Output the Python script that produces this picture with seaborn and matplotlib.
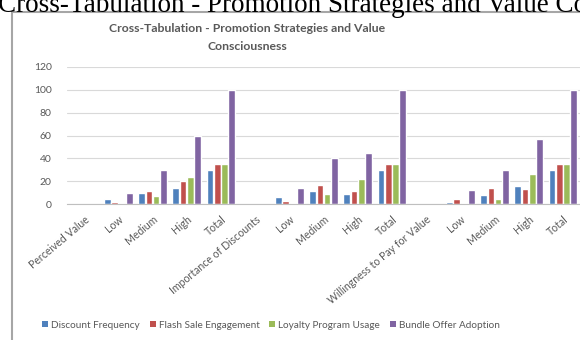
import numpy as np
import pandas as pd
import seaborn as sns
import matplotlib.pyplot as plt
from matplotlib.patches import Rectangle, Patch

# ---- data -------------------------------------------------------------
categories = ["Perceived Value", "Low", "Medium", "High", "Total",
              "Importance of Discounts", "Low", "Medium", "High", "Total",
              "Willingness to Pay for Value", "Low", "Medium", "High", "Total"]
series_names = ["Discount Frequency", "Flash Sale Engagement",
                "Loyalty Program Usage", "Bundle Offer Adoption"]
discount_frequency = [None, 4, 10, 14, 30, None, 6, 11, 9, 30, None, 2, 8, 16, 30]
flash_sale_engagement = [None, 2, 11, 20, 35, None, 3, 17, 11, 35, None, 4, 14, 13, 35]
loyalty_program_usage = [None, 1, 7, 24, 35, None, 0.5, 9, 22, 35, None, 0.5, 4, 26, 35]
bundle_offer_adoption = [None, 10, 30, 60, 100, None, 14, 40, 45, 100, None, 12, 30, 57, 100]
colors = ["#4F81BD", "#C0504D", "#9BBB59", "#8064A2"]

series_values = [discount_frequency, flash_sale_engagement,
                 loyalty_program_usage, bundle_offer_adoption]
keys = [f"{i}:{c}" for i, c in enumerate(categories)]
rows = []
for name, vals in zip(series_names, series_values):
    for k, v in zip(keys, vals):
        if v is not None:
            rows.append({"key": k, "series": name, "value": v})
df = pd.DataFrame(rows)

# ---- figure -----------------------------------------------------------
sns.set_theme(style="white")
plt.rcParams['font.family'] = ['Lato', 'DejaVu Sans']

W, H = 580, 340
fig = plt.figure(figsize=(W / 100, H / 100), dpi=100)
fig.patch.set_facecolor("white")

# caption above the chart frame (cut off by the picture edges, as in the reference)
fig.text(-0.003, 1 - 12 / H,
         "Cross-Tabulation - Promotion Strategies and Value Consciousness",
         family=['Liberation Serif', 'DejaVu Serif'], fontsize=19.5,
         ha='left', va='baseline', color='black')

# chart frame
fig.patches.append(Rectangle((12 / W, -0.1), 1.2, (H - 12) / H + 0.1,
                             transform=fig.transFigure, fill=False,
                             edgecolor='#A6A6A6', lw=1.5))

ax = fig.add_axes([67 / W, (H - 204) / H, 1 - 67 / W, (204 - 67) / H])

sns.barplot(data=df, x="key", y="value", hue="series", order=keys,
            hue_order=series_names, palette=colors, width=0.85, gap=0.08,
            saturation=1, errorbar=None, legend=False, ax=ax)

ax.set_xlim(-0.5, len(categories) - 0.5)
ax.set_ylim(0, 120)
ax.set_yticks(range(0, 121, 20))
ax.set_xticks(range(len(categories)))
ax.set_xticklabels(categories, rotation=40, ha='right', rotation_mode='anchor',
                   fontsize=7.6, color='#595959')
ax.tick_params(axis='x', length=0, pad=7)
ax.tick_params(axis='y', length=0, pad=11, labelsize=7.5, labelcolor='#595959')
ax.set_xlabel("")
ax.set_ylabel("")
ax.yaxis.grid(True, color='#D9D9D9', lw=0.8)
ax.set_axisbelow(True)
for s in ["top", "right", "left"]:
    ax.spines[s].set_visible(False)
ax.spines["bottom"].set_color("#BFBFBF")
ax.spines["bottom"].set_linewidth(0.8)

# chart title
fig.text(247 / W, 1 - 29 / H, "Cross-Tabulation - Promotion Strategies and Value",
         ha='center', va='center', fontsize=8.8, fontweight='bold', color='#595959')
fig.text(247 / W, 1 - 47 / H, "Consciousness",
         ha='center', va='center', fontsize=8.8, fontweight='bold', color='#595959')

handles = [Patch(facecolor=c, edgecolor='none') for c in colors]
fig.legend(handles, series_names, loc='center',
           bbox_to_anchor=(271 / W, 1 - 325 / H), ncol=4, frameon=False,
           fontsize=7.2, handlelength=0.6, handleheight=0.6,
           handletextpad=0.3, columnspacing=1.0, labelcolor='#595959')

fig.savefig("out.png", dpi=100)
